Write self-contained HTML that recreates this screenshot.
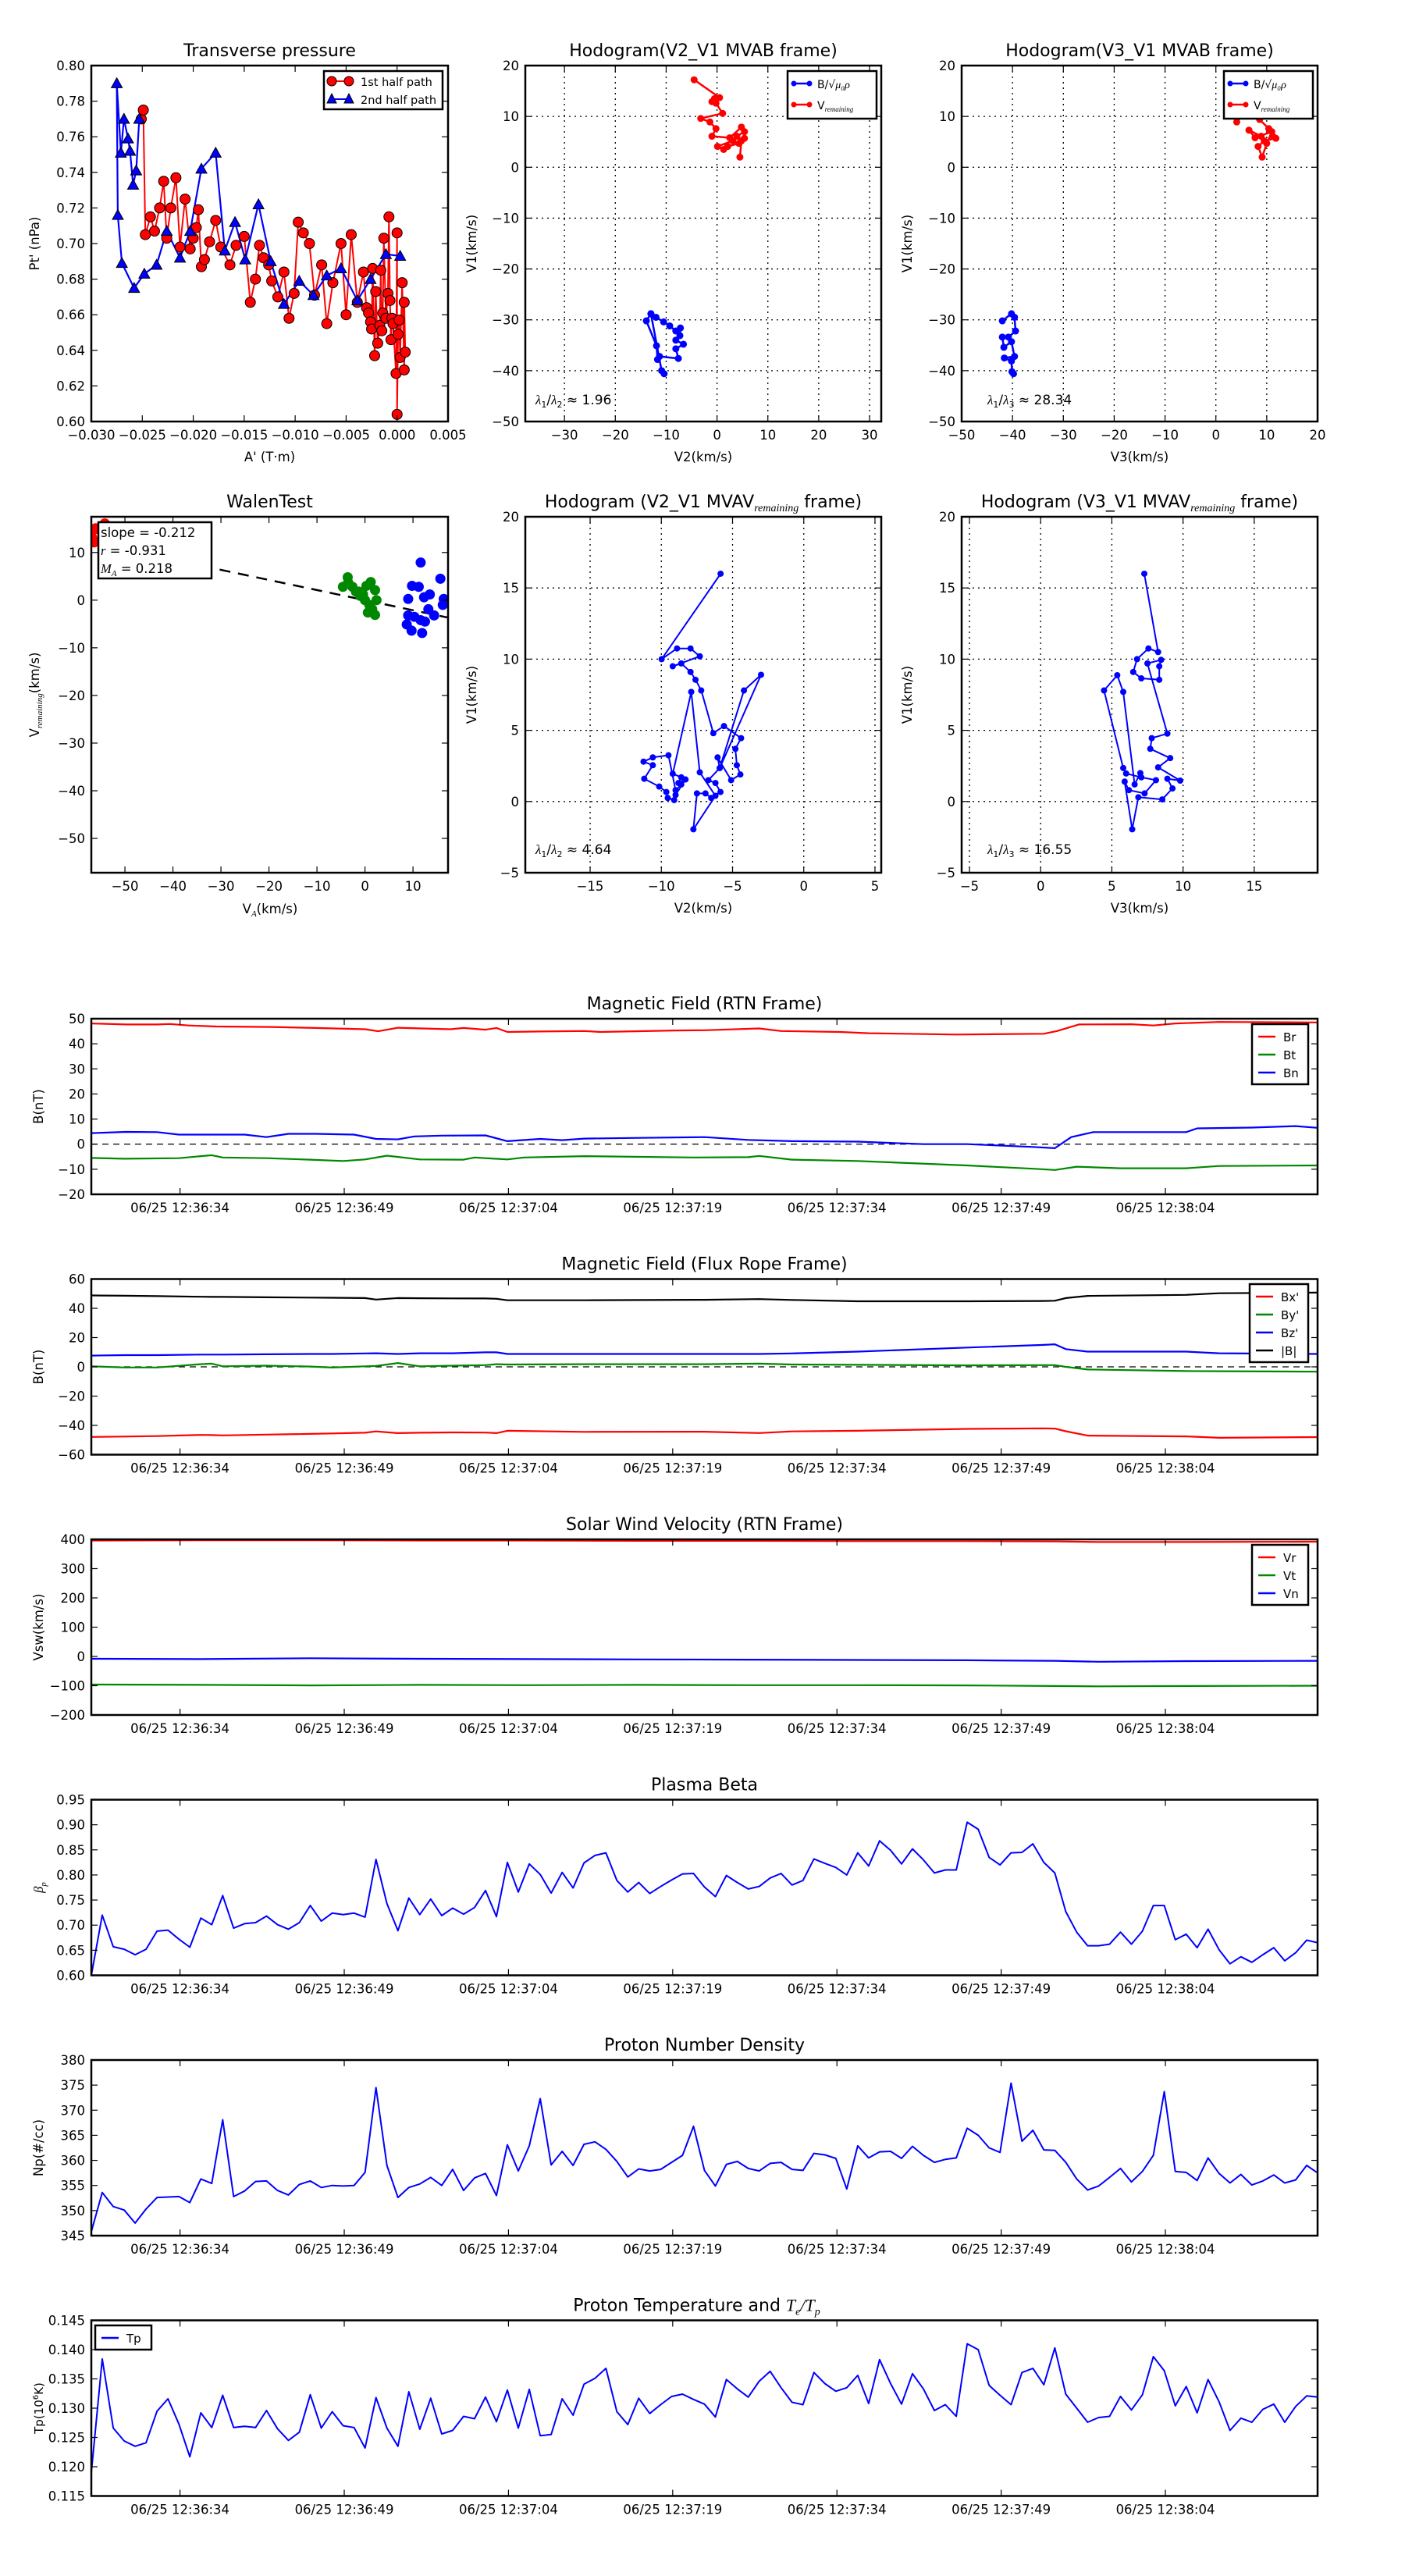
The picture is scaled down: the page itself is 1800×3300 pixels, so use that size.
<!DOCTYPE html>
<html><head><meta charset="utf-8"><style>
html,body{margin:0;padding:0;background:#fff}
svg{display:block;font-family:"DejaVu Sans","Liberation Sans",sans-serif}
</style></head><body>
<svg id="fig" xmlns="http://www.w3.org/2000/svg" width="1800" height="3300" viewBox="0 0 1800 3300">
<rect x="0" y="0" width="1800" height="3300" fill="#fff"/>
</svg>
<script>
// ---------- data ----------
const tpRedA=[-0.0251,-0.0249,-0.0247,-0.0242,-0.0238,-0.0233,-0.0229,-0.0226,-0.0222,-0.0217,-0.0213,-0.0208,-0.0203,-0.0200,-0.0197,-0.0195,-0.0192,-0.0189,-0.0184,-0.0178,-0.0173,-0.0164,-0.0158,-0.0150,-0.0144,-0.0139,-0.0135,-0.0131,-0.0126,-0.0123,-0.0117,-0.0111,-0.0106,-0.0101,-0.0097,-0.0092,-0.0086,-0.0081,-0.0074,-0.0069,-0.0063,-0.0055,-0.0050,-0.0045,-0.0039,-0.0033,-0.0030,-0.0028,-0.0026,-0.0025,-0.0024,-0.0022,-0.0021,-0.0019,-0.0017,-0.0016,-0.0015,-0.0014,-0.0013,-0.0011,-0.0009,-0.0008,-0.0007,-0.0006,-0.0005,-0.0004,-0.0001,0.0000,0.0000,0.0001,0.0002,0.0003,0.0005,0.0007,0.0007,0.0008];
const tpRedP=[0.770,0.775,0.705,0.715,0.707,0.720,0.735,0.703,0.720,0.737,0.698,0.725,0.697,0.703,0.709,0.719,0.687,0.691,0.701,0.713,0.698,0.688,0.699,0.704,0.667,0.680,0.699,0.692,0.688,0.679,0.670,0.684,0.658,0.672,0.712,0.706,0.700,0.671,0.688,0.655,0.678,0.700,0.660,0.705,0.667,0.684,0.664,0.661,0.656,0.652,0.686,0.637,0.673,0.644,0.654,0.685,0.651,0.661,0.703,0.658,0.672,0.715,0.668,0.646,0.658,0.655,0.627,0.706,0.604,0.649,0.657,0.636,0.678,0.629,0.667,0.639];
const tpBlueA=[-0.0253,-0.0256,-0.0259,-0.0262,-0.0264,-0.0268,-0.0271,-0.0275,-0.0274,-0.0270,-0.0258,-0.0248,-0.0236,-0.0226,-0.0213,-0.0203,-0.0192,-0.0178,-0.0169,-0.0159,-0.0149,-0.0136,-0.0124,-0.0111,-0.0096,-0.0082,-0.0069,-0.0055,-0.0039,-0.0026,-0.0011,0.0003];
const tpBlueP=[0.770,0.741,0.733,0.752,0.759,0.770,0.751,0.790,0.716,0.689,0.675,0.683,0.688,0.707,0.692,0.707,0.742,0.751,0.696,0.712,0.691,0.722,0.690,0.666,0.679,0.671,0.682,0.686,0.668,0.680,0.694,0.693];

const h1RedX=[-4.5,0.5,-0.5,-1,-0.2,1.1,-3.2,-1.4,-0.2,-1,2.5,4.8,5.4,3.9,3.1,0.1,1.3,2.1,4.3,5.4,4.8,4.5];
const h1RedY=[17.2,13.7,13.5,12.9,12.6,10.6,9.6,8.9,7.6,6.1,5.8,7.9,7.0,6.1,5.2,4.1,3.5,4.1,4.7,5.7,5.2,2.0];
const h1BlueX=[-13,-12,-10.5,-9.3,-8.1,-7.2,-7.3,-8.1,-6.6,-8.1,-7.6,-11.3,-11.7,-11.9,-13.9,-13,-10.9,-10.4];
const h1BlueY=[-28.8,-29.5,-30.4,-31.2,-32.2,-31.6,-33.1,-34,-34.8,-35.7,-37.6,-37.2,-37.8,-35.1,-30.2,-28.8,-40,-40.6];
const h2RedX=[4.1,5.3,8.6,10.4,11.2,11.8,9.5,8.3,9.1,10.0,11.0,7.7,6.5,8.9];
const h2RedY=[8.9,10.3,9.4,7.6,6.1,5.7,5.2,4.1,2.0,4.7,7.0,5.8,7.3,6.1];
const h2BlueX=[-42,-40.2,-39.6,-39.4,-40.8,-42,-41.7,-40.2,-39.6,-41.6,-40.2,-40.1,-39.8];
const h2BlueY=[-30.2,-28.8,-29.5,-32.2,-33.4,-33.4,-35.4,-34.3,-37.2,-37.5,-38.1,-40.2,-40.6];

const walGreenX=[-3.6,-4.6,-3.5,-2.6,-1.3,-0.4,1.2,0.3,2.1,0,0.9,2.4,1.5,0.6,2.1,-1.0,-1.9];
const walGreenY=[4.8,2.8,3.7,2.8,1.8,1.2,3.8,3.0,2.1,0,-1.0,0,-1.9,-2.6,-3.1,0.9,1.8];
const walBlueX=[11.6,15.7,9.8,9.0,11.2,12.3,13.5,16.4,16.2,14.4,13.2,11.6,8.7,9.7,11.9,10.3,9.0,12.5];
const walBlueY=[7.9,4.5,3.0,0.25,2.8,0.6,1.2,0.25,-1.0,-3.2,-1.9,-4.2,-5.1,-6.4,-6.9,-3.5,-3.2,-4.5];
const walRedX=[-56.9,-56.1,-54.2,-56.4];
const walRedY=[13.1,15,16,12.2];
const walSlope=-0.212;

const h3X=[-5.84,-9.98,-8.9,-7.95,-7.3,-9.2,-8.6,-7.95,-7.6,-7.2,-6.35,-5.6,-4.4,-4.8,-4.7,-4.45,-5.1,-6.05,-5.9,-3.0,-4.2,-5.9,-6.7,-6.2,-5.85,-6.5,-6.9,-7.5,-7.75,-6.2,-7.3,-7.9,-9.2,-8.6,-8.8,-8.3,-9.0,-9.1,-9.55,-9.65,-10.15,-11.2,-10.6,-11.25,-10.6,-9.5,-9.0,-8.6];
const h3Y=[16.0,10.0,10.75,10.75,10.2,9.5,9.7,9.1,8.55,7.8,4.8,5.3,4.45,3.7,2.55,1.9,1.5,3.1,2.35,8.9,7.8,2.35,1.5,1.3,0.67,0.25,0.57,0.57,-1.95,0.4,2.05,7.7,1.95,1.7,1.3,1.55,0.46,0.1,0.25,0.67,1.05,1.6,2.55,2.8,3.1,3.25,0.8,1.2];
const h4X=[7.28,8.25,7.57,6.77,6.5,7.07,8.33,8.33,8.46,7.5,8.9,7.8,7.7,9.1,8.25,9.8,8.9,9.26,8.54,6.86,6.43,5.9,6.2,7.3,8.1,7.07,6.0,5.8,4.45,5.38,5.8,6.6,7.0];
const h4Y=[16.0,10.5,10.75,10.0,9.1,8.65,8.55,9.5,9.95,9.7,4.77,4.45,3.7,3.05,2.4,1.47,1.6,0.92,0.15,0.3,-1.95,1.4,0.8,0.57,1.5,1.7,1.97,2.35,7.8,8.87,7.7,1.2,2.0];

const brT=[0,3.2,6,7.2,8.9,11.4,16.4,20.5,25,26.2,28,32.8,34,36,37,38,41,45,46.5,53.3,56,61,63,68.4,71,79,87,88.2,90.2,95,97,99,103,112];
const brV=[48.1,47.7,47.7,47.9,47.3,46.9,46.7,46.3,45.8,45.0,46.4,45.8,46.3,45.6,46.3,44.7,44.9,45.1,44.7,45.3,45.4,46.1,45.1,44.7,44.2,43.7,44.0,45.1,47.7,47.8,47.3,48.1,48.7,48.5];
const btT=[0,3,8,10,11,12,16,20,23,25,27,30,34,35,38,39.5,45,55,60,61,64,70,80,86,88,90,94,100,103,112];
const btV=[-5.5,-5.8,-5.6,-4.8,-4.4,-5.3,-5.6,-6.2,-6.7,-6.1,-4.6,-6.1,-6.2,-5.3,-6.1,-5.3,-4.8,-5.3,-5.2,-4.7,-6.2,-6.7,-8.5,-9.8,-10.3,-9.0,-9.6,-9.6,-8.7,-8.5];
const bnT=[0,3.2,6,8,11,14,16,18,20.5,24,26,28,29.5,32,36,38,41,43,45,50,56,60,64,70,76,80,86,88,89.5,91.5,100,101,106,110,112];
const bnV=[4.4,4.9,4.8,3.8,3.8,3.8,2.8,4.1,4.1,3.8,2.1,1.9,3.1,3.4,3.5,1.2,2.1,1.6,2.2,2.5,2.8,1.7,1.2,1.0,0.0,0.0,-1.1,-1.6,2.8,4.8,4.8,6.3,6.6,7.2,6.5];

const fT=[0,3,6,10,11,12,16,20,22,25,26,28,30,33,36,37,38,45,56,61,64,70,80,87,88,89,91,100,103,112];
const bxV=[-47.9,-47.6,-47.3,-46.5,-46.6,-46.8,-46.3,-45.8,-45.5,-45.0,-44.1,-45.3,-45.0,-44.8,-44.9,-45.3,-43.7,-44.4,-44.3,-45.2,-44.1,-43.7,-42.4,-42.0,-42.2,-44.0,-47.0,-47.5,-48.5,-48.0];
const byV=[0.4,-0.4,-0.4,1.8,2.2,0.4,0.8,0.2,-0.5,0.4,0.6,2.6,0.4,0.8,1.2,1.8,1.6,1.8,1.8,2.2,1.6,1.4,1.0,1.2,1.2,0.0,-1.8,-2.9,-3.0,-3.3];
const bzV=[7.7,8.0,8.0,8.4,8.4,8.4,8.6,8.8,8.8,9.2,9.3,8.8,9.3,9.3,9.9,9.9,8.8,8.8,8.8,8.8,9.2,10.4,13.2,15.0,15.4,12.1,10.4,10.4,9.3,8.8];
const bmV=[48.8,48.6,48.3,47.9,47.8,47.8,47.5,47.3,47.2,47.0,46.0,47.0,46.9,46.8,46.7,46.5,45.5,45.5,45.8,46.3,45.7,44.8,44.8,45.0,45.2,47.0,48.5,49.2,50.3,50.7];

const vT=[0,10,20,30,40,50,60,70,80,88,92,100,112];
const vrV=[396,397,397,396,396,395,395,394,394,393,391,391,392];
const vtV=[-96,-97,-99,-97,-98,-97,-98,-98,-99,-101,-102,-101,-100];
const vnV=[-8,-9,-6,-8,-9,-10,-11,-12,-13,-15,-18,-16,-15];

const beta=[0.600,0.720,0.657,0.652,0.641,0.652,0.688,0.690,0.672,0.656,0.714,0.701,0.759,0.694,0.703,0.705,0.718,0.701,0.692,0.705,0.739,0.708,0.724,0.721,0.724,0.716,0.831,0.743,0.689,0.754,0.721,0.752,0.719,0.734,0.722,0.735,0.769,0.717,0.825,0.766,0.822,0.801,0.764,0.805,0.774,0.824,0.839,0.844,0.789,0.766,0.785,0.763,0.777,0.790,0.802,0.803,0.776,0.757,0.799,0.785,0.772,0.777,0.794,0.803,0.780,0.789,0.832,0.823,0.815,0.800,0.844,0.818,0.868,0.849,0.822,0.852,0.830,0.804,0.810,0.810,0.905,0.891,0.835,0.820,0.844,0.845,0.862,0.825,0.804,0.727,0.686,0.659,0.659,0.662,0.686,0.662,0.688,0.739,0.739,0.671,0.682,0.655,0.692,0.651,0.623,0.637,0.626,0.641,0.655,0.629,0.645,0.670,0.665];
const dens=[345.8,353.6,350.8,350.1,347.5,350.3,352.6,352.7,352.8,351.6,356.3,355.4,368.1,352.8,353.9,355.8,355.9,354.0,353.1,355.2,355.9,354.6,355.0,354.9,355.0,357.6,374.5,359.0,352.6,354.6,355.3,356.6,355.0,358.2,354.0,356.5,357.4,353.0,363.1,357.9,362.9,372.3,359.1,361.8,359.0,363.2,363.7,362.2,359.8,356.7,358.3,357.9,358.2,359.6,361.0,366.8,358.0,354.9,359.2,359.8,358.4,357.9,359.4,359.6,358.2,358.0,361.4,361.1,360.4,354.3,362.9,360.5,361.7,361.8,360.4,362.8,361.0,359.6,360.2,360.5,366.4,365.0,362.5,361.6,375.4,363.8,366.0,362.1,362.0,359.6,356.3,354.1,354.9,356.6,358.4,355.7,357.8,361.0,373.7,357.8,357.6,356.0,360.5,357.4,355.5,357.2,355.1,355.9,357.1,355.5,356.1,359.0,357.5];
const temp=[0.1190,0.1384,0.1266,0.1244,0.1235,0.1241,0.1295,0.1316,0.1273,0.1217,0.1292,0.1267,0.1322,0.1267,0.1269,0.1267,0.1296,0.1265,0.1245,0.1259,0.1323,0.1266,0.1294,0.1270,0.1267,0.1232,0.1318,0.1266,0.1235,0.1328,0.1264,0.1317,0.1256,0.1262,0.1286,0.1282,0.1319,0.1277,0.1331,0.1266,0.1332,0.1253,0.1255,0.1316,0.1288,0.1341,0.1351,0.1368,0.1294,0.1272,0.1317,0.1291,0.1306,0.1320,0.1324,0.1315,0.1307,0.1285,0.1349,0.1333,0.1319,0.1346,0.1363,0.1335,0.1310,0.1306,0.1361,0.1342,0.1329,0.1335,0.1356,0.1308,0.1383,0.1342,0.1307,0.1359,0.1333,0.1296,0.1306,0.1286,0.1410,0.1400,0.1339,0.1322,0.1306,0.1361,0.1368,0.1340,0.1403,0.1324,0.1300,0.1276,0.1284,0.1286,0.1320,0.1297,0.1323,0.1388,0.1364,0.1304,0.1337,0.1292,0.1349,0.1311,0.1262,0.1283,0.1276,0.1298,0.1307,0.1276,0.1303,0.1321,0.1319];

const timeTickLabels=["06/25 12:36:34","06/25 12:36:49","06/25 12:37:04","06/25 12:37:19","06/25 12:37:34","06/25 12:37:49","06/25 12:38:04"];
const timeTickSec=[8.1,23.1,38.1,53.1,68.1,83.1,98.1];

// ---------- helpers ----------
const NS="http://www.w3.org/2000/svg";
const svg=document.getElementById('fig');
function el(tag,attrs,parent){const e=document.createElementNS(NS,tag);for(const k in attrs)e.setAttribute(k,attrs[k]);(parent||svg).appendChild(e);return e;}
function txt(s,x,y,size,anchor,parent,extra){const t=el('text',Object.assign({x:x,y:y,'font-size':size,'text-anchor':anchor||'middle',fill:'#000'},extra||{}),parent);t.textContent=s;return t;}
function fmt(v,d){const s=Math.abs(v).toFixed(d);return (v<0?'\u2212':'')+s;}
let clipN=0;
function makeAxes(name,x0,y0,x1,y1,xd,yd){
  const g=el('g',{},svg);
  
  
  const sx=v=>x0+(v-xd[0])/(xd[1]-xd[0])*(x1-x0);
  const sy=v=>y1-(v-yd[0])/(yd[1]-yd[0])*(y1-y0);
  const id='clip'+(clipN++);
  const cp=el('clipPath',{id:id},g);el('rect',{x:x0,y:y0,width:x1-x0,height:y1-y0},cp);
  const grid=el('g',{},g);
  const plot=el('g',{'clip-path':'url(#'+id+')'},g);
  const deco=el('g',{},g);
  return {g,plot,grid,deco,sx,sy,x0,y0,x1,y1};
}
function frame(a){el('rect',{x:a.x0,y:a.y0,width:a.x1-a.x0,height:a.y1-a.y0,fill:'none',stroke:'#000','stroke-width':2.5},a.deco);}
function xTicks(a,vals,labels,opts){
  opts=opts||{};
  vals.forEach((v,i)=>{const x=a.sx(v);
    if(opts.grid) el('line',{x1:x,y1:a.y0,x2:x,y2:a.y1,stroke:'#000','stroke-width':1.3,'stroke-dasharray':'2,5'},a.grid);
    el('line',{x1:x,y1:a.y1,x2:x,y2:a.y1-8,stroke:'#000','stroke-width':1.2},a.deco);
    el('line',{x1:x,y1:a.y0,x2:x,y2:a.y0+8,stroke:'#000','stroke-width':1.2},a.deco);
    const t=txt(labels[i],x,a.y1+23,16.5,'middle',a.deco);
    
    
  });
}
function yTicks(a,vals,labels,opts){
  opts=opts||{};
  vals.forEach((v,i)=>{const y=a.sy(v);
    if(opts.grid) el('line',{x1:a.x0,y1:y,x2:a.x1,y2:y,stroke:'#000','stroke-width':1.3,'stroke-dasharray':'2,5'},a.grid);
    el('line',{x1:a.x0,y1:y,x2:a.x0+8,y2:y,stroke:'#000','stroke-width':1.2},a.deco);
    el('line',{x1:a.x1,y1:y,x2:a.x1-8,y2:y,stroke:'#000','stroke-width':1.2},a.deco);
    const t=txt(labels[i],a.x0-8,y+6,16.5,'end',a.deco);
    
    
  });
}
function title(a,s){const t=txt(s,(a.x0+a.x1)/2,a.y0-12,22,'middle',a.deco);return t;}
function xlabel(a,s,dy){const t=txt(s,(a.x0+a.x1)/2,a.y1+(dy||55),16.5,'middle',a.deco);return t;}
function ylabel(a,s,x){const cx=x,cy=(a.y0+a.y1)/2;const t=txt(s,cx,cy,16.5,'middle',a.deco,{transform:'rotate(-90 '+cx+' '+cy+')'});return t;}
function poly(a,xs,ys,color,w,name){const pts=xs.map((x,i)=>a.sx(x).toFixed(1)+','+a.sy(ys[i]).toFixed(1)).join(' ');const p=el('polyline',{points:pts,fill:'none',stroke:color,'stroke-width':w,'stroke-linejoin':'round'},a.plot);return p;}
function dots(a,xs,ys,color,r,name,edge){const g=el('g',{},a.plot);xs.forEach((x,i)=>{const c=el('circle',{cx:a.sx(x),cy:a.sy(ys[i]),r:r,fill:color},g);if(edge){c.setAttribute('stroke','#000');c.setAttribute('stroke-width',1);}});return g;}
function tris(a,xs,ys,color,s,name){const g=el('g',{},a.plot);xs.forEach((x,i)=>{const cx=a.sx(x),cy=a.sy(ys[i]);el('polygon',{points:(cx)+','+(cy-s)+' '+(cx-s)+','+(cy+s*0.8)+' '+(cx+s)+','+(cy+s*0.8),fill:color,stroke:'#000','stroke-width':1},g);});return g;}
function range(a,b,s){const r=[];for(let v=a;v<=b+1e-9;v+=s)r.push(+v.toFixed(6));return r;}
function legendBox(x,y,w,h,name){const r=el('rect',{x:x,y:y,width:w,height:h,fill:'#fff',stroke:'#000','stroke-width':2.5});return r;}

// ---------- Transverse pressure ----------
(function(){
  const a=makeAxes('transverse-pressure-plot',117,84,574,540,[-0.030,0.005],[0.60,0.80]);
  const xv=range(-0.030,0.005,0.005);xTicks(a,xv,xv.map(v=>fmt(v,3)));
  const yv=range(0.60,0.80,0.02);yTicks(a,yv,yv.map(v=>v.toFixed(2)));
  poly(a,tpRedA,tpRedP,'#f00',2,'first-half-line');
  poly(a,tpBlueA,tpBlueP,'#00f',2.2,'second-half-line');
  dots(a,tpRedA,tpRedP,'#f00',6.5,'first-half-markers',true);
  tris(a,tpBlueA,tpBlueP,'#00f',7,'second-half-markers');
  frame(a);title(a,'Transverse pressure');xlabel(a,"A' (T\u00b7m)",51);ylabel(a,"Pt' (nPa)",50);
  legendBox(415,91,152,49,'legend');
  el('line',{x1:425,y1:104,x2:447,y2:104,stroke:'#f00','stroke-width':2});
  el('circle',{cx:425,cy:104,r:6,fill:'#f00',stroke:'#000'});el('circle',{cx:447,cy:104,r:6,fill:'#f00',stroke:'#000'});
  txt('1st half path',462,110,14.5,'start');
  el('line',{x1:425,y1:127,x2:447,y2:127,stroke:'#00f','stroke-width':2});
  el('polygon',{points:'425,120 419,132 431,132',fill:'#00f',stroke:'#000'});el('polygon',{points:'447,120 441,132 453,132',fill:'#00f',stroke:'#000'});
  txt('2nd half path',462,133,14.5,'start');
})();

function mvLegend(x,y){
  legendBox(x,y,114,61,'legend');
  el('line',{x1:x+8,y1:y+16,x2:x+28,y2:y+16,stroke:'#00f','stroke-width':2.5});
  el('circle',{cx:x+8,cy:y+16,r:3.5,fill:'#00f'});el('circle',{cx:x+28,cy:y+16,r:3.5,fill:'#00f'});
  const t1=txt('B/\u221a',x+38,y+22,14,'start');const s=el('tspan',{'font-style':'italic','font-family':'Liberation Serif, serif'},t1);s.textContent='\u03bc\u2080\u03c1';
  el('line',{x1:x+8,y1:y+43,x2:x+28,y2:y+43,stroke:'#f00','stroke-width':2.5});
  el('circle',{cx:x+8,cy:y+43,r:3.5,fill:'#f00'});el('circle',{cx:x+28,cy:y+43,r:3.5,fill:'#f00'});
  const t2=txt('V',x+38,y+49,14,'start');const s2=el('tspan',{'font-size':9,'font-style':'italic','font-family':'Liberation Serif, serif',dy:3},t2);s2.textContent='remaining';
}
function lambdaText(x,y,a,b,val){
  const t=el('text',{x:x,y:y,'font-size':17,fill:'#000'});
  
  
  const p=(s,o)=>{const e=el('tspan',o||{},t);e.textContent=s;};
  p('\u03bb',{'font-style':'italic','font-family':'Liberation Serif, serif'});p(a,{'font-size':11,dy:4});
  p('/',{dy:-4});p('\u03bb',{'font-style':'italic','font-family':'Liberation Serif, serif'});p(b,{'font-size':11,dy:4});
  p(' \u2248 '+val,{dy:-4});
}

// ---------- Hodogram V2_V1 MVAB ----------
(function(){
  const a=makeAxes('hodogram-v2-v1-mvab',673,84,1129,540,[-37.7,32.3],[-50,20]);
  const xv=range(-30,30,10);xTicks(a,xv,xv.map(v=>fmt(v,0)),{grid:true});
  const yv=range(-50,20,10);yTicks(a,yv,yv.map(v=>fmt(v,0)),{grid:true});
  poly(a,h1RedX,h1RedY,'#f00',2.5,'v-remaining-line');dots(a,h1RedX,h1RedY,'#f00',4.5,'v-remaining-markers');
  poly(a,h1BlueX,h1BlueY,'#00f',2.5,'b-alfven-line');dots(a,h1BlueX,h1BlueY,'#00f',4.5,'b-alfven-markers');
  frame(a);title(a,'Hodogram(V2_V1 MVAB frame)');xlabel(a,'V2(km/s)',51);ylabel(a,'V1(km/s)',610);
  mvLegend(1009,91);lambdaText(686,518,'1','2','1.96');
})();
// ---------- Hodogram V3_V1 MVAB ----------
(function(){
  const a=makeAxes('hodogram-v3-v1-mvab',1232,84,1688,540,[-50,20],[-50,20]);
  const xv=range(-50,20,10);xTicks(a,xv,xv.map(v=>fmt(v,0)),{grid:true});
  const yv=range(-50,20,10);yTicks(a,yv,yv.map(v=>fmt(v,0)),{grid:true});
  poly(a,h2RedX,h2RedY,'#f00',2.5,'v-remaining-line');dots(a,h2RedX,h2RedY,'#f00',4.5,'v-remaining-markers');
  poly(a,h2BlueX,h2BlueY,'#00f',2.5,'b-alfven-line');dots(a,h2BlueX,h2BlueY,'#00f',4.5,'b-alfven-markers');
  frame(a);title(a,'Hodogram(V3_V1 MVAB frame)');xlabel(a,'V3(km/s)',51);ylabel(a,'V1(km/s)',1168);
  mvLegend(1568,91);lambdaText(1265,518,'1','3','28.34');
})();

// ---------- Walen test ----------
(function(){
  const a=makeAxes('walen-test-plot',117,662,574,1118,[-57.0,17.3],[-57.2,17.5]);
  const xv=range(-50,10,10);xTicks(a,xv,xv.map(v=>fmt(v,0)));
  const yv=range(-50,10,10);yTicks(a,yv,yv.map(v=>fmt(v,0)));
  const fitX=[-57,17.3];
  poly(a,fitX,fitX.map(v=>walSlope*v),'#000',2.5,'fit-line').setAttribute('stroke-dasharray','14,10');
  dots(a,walRedX,walRedY,'#f00',7,'red-points');
  dots(a,walGreenX,walGreenY,'#080',6.5,'green-points');
  dots(a,walBlueX,walBlueY,'#00f',6.5,'blue-points');
  frame(a);title(a,'WalenTest');
  const xl=txt('V',346,1170,16.5,'middle',a.deco);const s=el('tspan',{'font-size':11,'font-style':'italic','font-family':'Liberation Serif, serif',dy:4},xl);s.textContent='A';const s2=el('tspan',{dy:-4},xl);s2.textContent='(km/s)';
  
  const yl=txt('V',50,890,16.5,'middle',a.deco,{transform:'rotate(-90 50 890)'});const y1=el('tspan',{'font-size':11,'font-style':'italic','font-family':'Liberation Serif, serif',dy:4},yl);y1.textContent='remaining';const y2=el('tspan',{dy:-4},yl);y2.textContent='(km/s)';
  
  legendBox(126,669,145,72,'fit-stats-box');
  txt('slope = -0.212',129,688,16.5,'start');
  const r=txt('',129,711,16.5,'start');const r1=el('tspan',{'font-style':'italic','font-family':'Liberation Serif, serif'},r);r1.textContent='r';const r2=el('tspan',{},r);r2.textContent=' = -0.931';
  const m=txt('',129,734,16.5,'start');const m1=el('tspan',{'font-style':'italic','font-family':'Liberation Serif, serif'},m);m1.textContent='M';const m2=el('tspan',{'font-style':'italic','font-family':'Liberation Serif, serif','font-size':11,dy:4},m);m2.textContent='A';const m3=el('tspan',{dy:-4},m);m3.textContent=' = 0.218';
})();

// ---------- Hodogram V2_V1 MVAV ----------
function titleSub(a,pre,sub,post){const t=txt('',(a.x0+a.x1)/2,a.y0-12,22,'middle',a.deco);const p1=el('tspan',{},t);p1.textContent=pre;const p2=el('tspan',{'font-size':14,'font-style':'italic','font-family':'Liberation Serif, serif',dy:5},t);p2.textContent=sub;const p3=el('tspan',{dy:-5},t);p3.textContent=post;}
(function(){
  const a=makeAxes('hodogram-v2-v1-mvav',673,662,1129,1118,[-19.55,5.44],[-5,20]);
  const xv=range(-15,5,5);xTicks(a,xv,xv.map(v=>fmt(v,0)),{grid:true});
  const yv=range(-5,20,5);yTicks(a,yv,yv.map(v=>fmt(v,0)),{grid:true});
  poly(a,h3X,h3Y,'#00f',2,'hodogram-line');dots(a,h3X,h3Y,'#00f',4,'hodogram-markers');
  frame(a);titleSub(a,'Hodogram (V2_V1 MVAV','remaining',' frame)');xlabel(a,'V2(km/s)',51);ylabel(a,'V1(km/s)',610);
  lambdaText(686,1094,'1','2','4.64');
})();
(function(){
  const a=makeAxes('hodogram-v3-v1-mvav',1232,662,1688,1118,[-5.55,19.45],[-5,20]);
  const xv=range(-5,15,5);xTicks(a,xv,xv.map(v=>fmt(v,0)),{grid:true});
  const yv=range(-5,20,5);yTicks(a,yv,yv.map(v=>fmt(v,0)),{grid:true});
  poly(a,h4X,h4Y,'#00f',2,'hodogram-line');dots(a,h4X,h4Y,'#00f',4,'hodogram-markers');
  frame(a);titleSub(a,'Hodogram (V3_V1 MVAV','remaining',' frame)');xlabel(a,'V3(km/s)',51);ylabel(a,'V1(km/s)',1168);
  lambdaText(1265,1094,'1','3','16.55');
})();

// ---------- time series ----------
const TX0=117,TX1=1688,TH=225;
function tsAxes(name,top,yd,yvals,ydec){
  const a=makeAxes(name,TX0,top,TX1,top+TH,[0,112],yd);
  xTicks(a,timeTickSec,timeTickLabels);
  yTicks(a,yvals,yvals.map(v=>fmt(v,ydec)));
  return a;
}
function zeroLine(a){const l=el('line',{x1:a.x0,y1:a.sy(0),x2:a.x1,y2:a.sy(0),stroke:'#000','stroke-width':1.2,'stroke-dasharray':'8,6'},a.plot);}
function lineLegend(x,y,w,items){
  legendBox(x,y,w,items.length*23+8,'legend');
  items.forEach((it,i)=>{const yy=y+16+i*23;el('line',{x1:x+8,y1:yy,x2:x+30,y2:yy,stroke:it[0],'stroke-width':2.5});txt(it[1],x+40,yy+6,15,'start');});
}
const secs=beta.map((_,i)=>i);

(function(){
  const a=tsAxes('magnetic-field-rtn-plot',1305,[-20,50],range(-20,50,10),0);
  zeroLine(a);
  poly(a,brT,brV,'#f00',2.2,'br-line');poly(a,btT,btV,'#080',2.2,'bt-line');poly(a,bnT,bnV,'#00f',2.2,'bn-line');
  frame(a);title(a,'Magnetic Field (RTN Frame)');ylabel(a,'B(nT)',55);
  lineLegend(1604,1312,72,[['#f00','Br'],['#080','Bt'],['#00f','Bn']]);
})();
(function(){
  const a=tsAxes('magnetic-field-flux-rope-plot',1638.5,[-60,60],range(-60,60,20),0);
  zeroLine(a);
  poly(a,fT,bxV,'#f00',2.2,'bx-line');poly(a,fT,byV,'#080',2.2,'by-line');poly(a,fT,bzV,'#00f',2.2,'bz-line');poly(a,fT,bmV,'#000',2.2,'bmag-line');
  frame(a);title(a,'Magnetic Field (Flux Rope Frame)');ylabel(a,'B(nT)',55);
  lineLegend(1601,1645,75,[['#f00',"Bx'"],['#080',"By'"],['#00f',"Bz'"],['#000','|B|']]);
})();
(function(){
  const a=tsAxes('solar-wind-velocity-plot',1972,[-200,400],range(-200,400,100),0);
  poly(a,vT,vrV,'#f00',2.2,'vr-line');poly(a,vT,vtV,'#080',2.2,'vt-line');poly(a,vT,vnV,'#00f',2.2,'vn-line');
  frame(a);title(a,'Solar Wind Velocity (RTN Frame)');ylabel(a,'Vsw(km/s)',55);
  lineLegend(1604,1979,72,[['#f00','Vr'],['#080','Vt'],['#00f','Vn']]);
})();
(function(){
  const a=tsAxes('plasma-beta-plot',2305.5,[0.60,0.95],range(0.60,0.95,0.05),2);
  poly(a,secs,beta,'#00f',2,'beta-line');
  frame(a);title(a,'Plasma Beta');
  const t=txt('',55,2418,16.5,'middle',a.deco,{transform:'rotate(-90 55 2418)'});
  
  const b1=el('tspan',{'font-style':'italic','font-family':'Liberation Serif, serif'},t);b1.textContent='\u03b2';const b2=el('tspan',{'font-size':11,'font-style':'italic','font-family':'Liberation Serif, serif',dy:4},t);b2.textContent='p';
})();
(function(){
  const a=tsAxes('proton-density-plot',2639,[345,380],range(345,380,5),0);
  poly(a,dens.map((_,i)=>i),dens,'#00f',2,'density-line');
  frame(a);title(a,'Proton Number Density');ylabel(a,'Np(#/cc)',55);
})();
(function(){
  const a=tsAxes('proton-temperature-plot',2972.5,[0.115,0.145],range(0.115,0.145,0.005),3);
  poly(a,temp.map((_,i)=>i),temp,'#00f',2,'tp-line');
  frame(a);
  const t=txt('Proton Temperature and ',(a.x0+a.x1)/2-10,a.y0-12,22,'middle',a.deco);
  
  const q1=el('tspan',{'font-style':'italic','font-family':'Liberation Serif, serif'},t);q1.textContent='T';
  const q2=el('tspan',{'font-size':14,'font-style':'italic','font-family':'Liberation Serif, serif',dy:5},t);q2.textContent='e';
  const q3=el('tspan',{'font-style':'italic','font-family':'Liberation Serif, serif',dy:-5},t);q3.textContent='/T';
  const q4=el('tspan',{'font-size':14,'font-style':'italic','font-family':'Liberation Serif, serif',dy:5},t);q4.textContent='p';
  const yl=txt('Tp(10',55,3085,15,'middle',a.deco,{transform:'rotate(-90 55 3085)'});
  
  const e1=el('tspan',{'font-size':10,dy:-6},yl);e1.textContent='6';const e2=el('tspan',{dy:6},yl);e2.textContent='K)';
  lineLegend(122,2979,72,[['#00f','Tp']]);
})();
</script>
</body></html>
